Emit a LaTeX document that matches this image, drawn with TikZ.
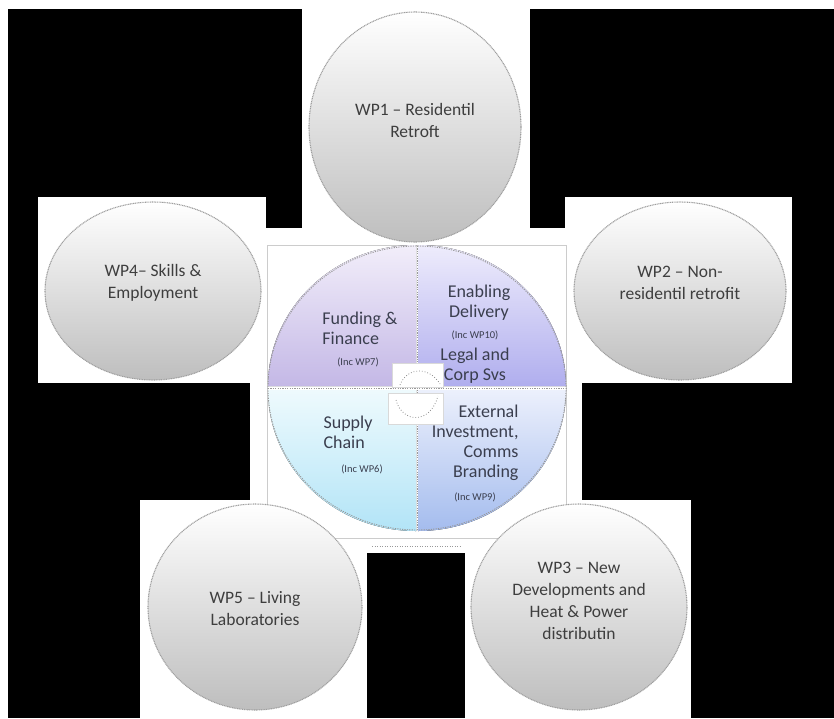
\documentclass[tikz,border=0pt]{standalone}
\usepackage{fontspec}
\setmainfont{Carlito}
\usepackage{tikz}
\usetikzlibrary{shapes.geometric}
\definecolor{colorlabel}   {RGB}{58 ,62 ,78 }
\definecolor{colorwp}      {RGB}{62 ,62 ,62 }
\definecolor{colorballtop} {RGB}{255,255,255}
\definecolor{colorballmid} {RGB}{238,238,238}
\definecolor{colorballbot} {RGB}{190,190,190}
\definecolor{colorfundtop} {RGB}{242,238,250}
\definecolor{colorfundbot} {RGB}{196,184,230}
\definecolor{colorenabtop} {RGB}{238,236,252}
\definecolor{colorenabbot} {RGB}{176,174,238}
\definecolor{colorsupptop} {RGB}{238,250,253}
\definecolor{colorsuppbot} {RGB}{178,228,247}
\definecolor{colorexttop}  {RGB}{236,240,252}
\definecolor{colorextbot}  {RGB}{164,188,238}

\begin{document}
\begin{tikzpicture}[
    x=1pt, y=-1pt,
    wpball/.style={draw=black!38, line width=1.1pt,
        dash pattern=on 1pt off 0.7pt,
        top color=colorballtop, middle color=colorballmid, bottom color=colorballbot},
    wptext/.style={text=colorwp, align=center, font={\fontsize{17.5}{22}\selectfont}},
    title/.style={text=colorlabel, font={\fontsize{18}{20}\selectfont}},
    inc/.style={text=colorlabel, font={\fontsize{10.5}{12}\selectfont}},
    rim/.style={draw=black!40, line width=0.9pt, dash pattern=on 1.2pt off 1.2pt},
    thumb/.style={fill=white, draw=black!15, line width=0.5pt},
]

    \useasboundingbox (0,0) rectangle (834,718);
    \fill[black] (8,9) rectangle (834,718);

    % white panels behind the work packages
    \fill[white] (302,0) rectangle (530,240);
    \fill[white] (38,197) rectangle (266,383);
    \fill[white] (565,197) rectangle (792,383);
    \fill[white] (140,500) rectangle (367,718);
    \fill[white] (465,500) rectangle (691,718);
    \fill[white] (250,228) rectangle (582,553);
    \draw[black!20, line width=0.8pt] (267,245) rectangle (566,538);
    \draw[black!40, dash pattern=on 1pt off 1.5pt] (372,546) -- (462,546);

    % quartered circle
    \fill[top color=colorfundtop, bottom color=colorfundbot]
        (416,386) -- (268,386) arc[start angle=180, end angle=270, x radius=148, y radius=141] -- cycle;
    \fill[top color=colorenabtop, bottom color=colorenabbot]
        (418,386) -- (418,245) arc[start angle=270, end angle=360, x radius=148, y radius=141] -- cycle;
    \fill[top color=colorsupptop, bottom color=colorsuppbot]
        (416,390) -- (416,531) arc[start angle=90, end angle=180, x radius=148, y radius=141] -- cycle;
    \fill[top color=colorexttop, bottom color=colorextbot]
        (418,390) -- (566,390) arc[start angle=0, end angle=90, x radius=148, y radius=141] -- cycle;
    \draw[rim] (417,388) ellipse[x radius=149, y radius=142];
    \draw[rim] (268,388) -- (566,388);
    \draw[rim] (417,246) -- (417,530);

    \fill[thumb] (392,363) rectangle (443,387);
    \draw[black!45, dotted, line width=0.8pt] (400,385) .. controls (407,367) and (429,366) .. (440,384);
    \fill[thumb] (388,393) rectangle (443,424);
    \draw[black!45, dotted, line width=0.8pt] (396,400) .. controls (402,423) and (430,425) .. (438,396);

    \node[title, align=left] (fund) at (360,328) {Funding \&\\Finance};
    \node[inc] (fundinc) at (358,362) {(Inc WP7)};
    \node[title, align=center] (enab) at (479,303) {Enabling\\Delivery};
    \node[inc] (enabinc) at (475,335) {(Inc WP10)};
    \node[title, align=center] (legal) at (475,366) {Legal and\\Corp Svs};
    \node[title, align=left] (supp) at (348,432) {Supply\\Chain};
    \node[inc] (suppinc) at (362,469) {(Inc WP6)};
    \node[title, align=right, anchor=east] (ext) at (522,443) {External\\Investment,\\Comms\\Branding};
    \node[inc] (extinc) at (475,497) {(Inc WP9)};

    % work packages
    \draw[wpball] (415,127) ellipse[x radius=106, y radius=115];
    \draw[wpball] (153,291) ellipse[x radius=108, y radius=89];
    \draw[wpball] (680,291) ellipse[x radius=106, y radius=89];
    \draw[wpball] (255,607) ellipse[x radius=107, y radius=103];
    \draw[wpball] (579,607) ellipse[x radius=108, y radius=103];

    \node[wptext] (wp1) at (415,120) {WP1 – Residentil\\Retroft};
    \node[wptext] (wp4) at (153,283) {WP4– Skills \&\\Employment};
    \node[wptext] (wp2) at (680,283) {WP2 – Non-\\residentil retrofit};
    \node[wptext] (wp5) at (255,609) {WP5 – Living\\Laboratories};
    \node[wptext] (wp3) at (579,601) {WP3 – New\\Developments and\\Heat \& Power\\distributin};

\end{tikzpicture}
\end{document}
